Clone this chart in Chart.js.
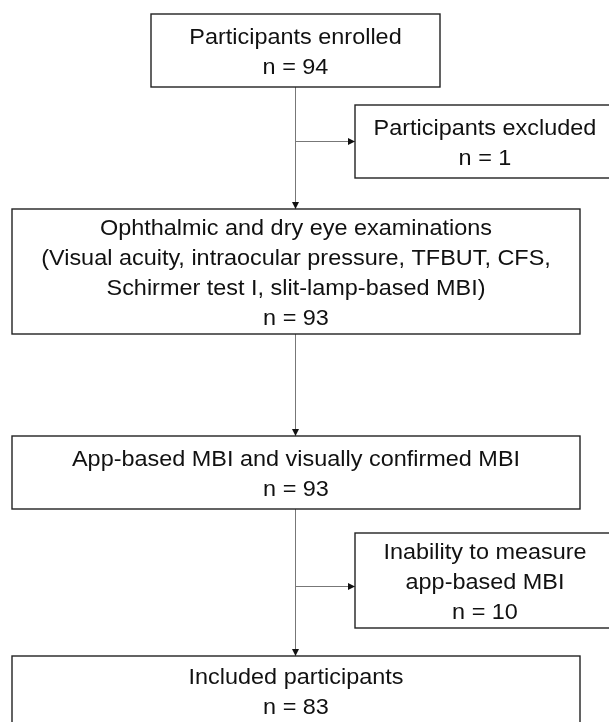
<!DOCTYPE html>
<html>
<head>
<meta charset="utf-8">
<script src="https://cdn.jsdelivr.net/npm/chart.js@4.4.1/dist/chart.umd.min.js"></script>
<style>
  html, body { margin: 0; padding: 0; background: #fff; }
  #wrap { width: 609px; height: 722px; }
</style>
</head>
<body>
<div id="wrap"><canvas id="flow" width="609" height="722"></canvas></div>
<script>
// stage titles and participant counts
const stageTitles = [
  ['Participants enrolled'],
  ['Participants excluded'],
  ['Ophthalmic and dry eye examinations', '(Visual acuity, intraocular pressure, TFBUT, CFS,', 'Schirmer test I, slit-lamp-based MBI)'],
  ['App-based MBI and visually confirmed MBI'],
  ['Inability to measure', 'app-based MBI'],
  ['Included participants']
];
const stageCounts = [94, 1, 93, 93, 10, 83];

// box layout in diagram units: [left, top, right, bottom]
const boxLayout = [
  [151, 14, 440, 87],
  [355, 105, 615, 178],
  [12, 209, 580, 334],
  [12, 436, 580, 509],
  [355, 533, 615, 628],
  [12, 656, 580, 725]
];

// connectors: [fromX, fromY, toX, toY], arrow at the "to" end
const links = [
  [295.5, 87, 295.5, 209],
  [295.5, 141.5, 355, 141.5],
  [295.5, 334, 295.5, 436],
  [295.5, 509, 295.5, 656],
  [295.5, 586.5, 355, 586.5]
];

const FONT_PX = 21.5;
const STRETCH = 1.09; // text in the figure is a bit wider than tall
const LINE_GAP = 30;

const flowPlugin = {
  id: 'flowBoxes',
  afterDatasetsDraw(chart) {
    const { ctx, scales: { x, y } } = chart;
    ctx.save();

    // arrow heads
    ctx.fillStyle = '#111';
    links.forEach(l => {
      const x0 = x.getPixelForValue(l[0]), y0 = y.getPixelForValue(l[1]);
      const x1 = x.getPixelForValue(l[2]), y1 = y.getPixelForValue(l[3]);
      const a = Math.atan2(y1 - y0, x1 - x0);
      const len = 7, hw = 3.5;
      ctx.beginPath();
      ctx.moveTo(x1, y1);
      ctx.lineTo(x1 - len * Math.cos(a) + hw * Math.sin(a), y1 - len * Math.sin(a) - hw * Math.cos(a));
      ctx.lineTo(x1 - len * Math.cos(a) - hw * Math.sin(a), y1 - len * Math.sin(a) + hw * Math.cos(a));
      ctx.closePath();
      ctx.fill();
    });

    // boxes + text
    boxLayout.forEach((b, i) => {
      const l = x.getPixelForValue(b[0]), t = y.getPixelForValue(b[1]);
      const r = x.getPixelForValue(b[2]), bt = y.getPixelForValue(b[3]);
      ctx.fillStyle = '#fff';
      ctx.fillRect(l, t, r - l, bt - t);
      ctx.strokeStyle = '#222';
      ctx.lineWidth = 1.4;
      ctx.strokeRect(l, t, r - l, bt - t);

      const lines = stageTitles[i].concat(['n = ' + stageCounts[i]]);
      const cx = (l + r) / 2, cy = (t + bt) / 2;
      ctx.fillStyle = '#111';
      ctx.font = FONT_PX + 'px "Liberation Sans", Arial, Helvetica, sans-serif';
      ctx.textAlign = 'center';
      ctx.textBaseline = 'alphabetic';
      lines.forEach((txt, k) => {
        const capMid = cy + (k - (lines.length - 1) / 2) * LINE_GAP + 0.5;
        const base = capMid + FONT_PX * 0.716 / 2;
        ctx.save();
        ctx.translate(cx, base);
        ctx.scale(STRETCH, 1);
        ctx.fillText(txt, 0, 0);
        ctx.restore();
      });
    });
    ctx.restore();
  }
};

const ctx = document.getElementById('flow').getContext('2d');
new Chart(ctx, {
  type: 'scatter',
  data: {
    datasets: links.map(l => ({
      data: [{ x: l[0], y: l[1] }, { x: l[2], y: l[3] }],
      showLine: true,
      borderColor: '#777',
      borderWidth: 1,
      pointRadius: 0
    }))
  },
  options: {
    responsive: false,
    animation: false,
    layout: { padding: 0 },
    plugins: { legend: { display: false }, tooltip: { enabled: false } },
    scales: {
      x: { type: 'linear', min: 0, max: 609, display: false },
      y: { type: 'linear', min: 0, max: 722, reverse: true, display: false }
    }
  },
  plugins: [flowPlugin]
});
</script>
</body>
</html>
